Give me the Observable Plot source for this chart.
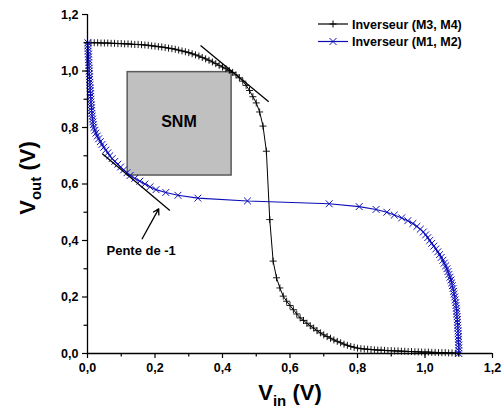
<!DOCTYPE html>
<html><head><meta charset="utf-8">
<script src="https://cdn.jsdelivr.net/npm/d3@7"></script>
<script src="https://cdn.jsdelivr.net/npm/@observablehq/plot@0.6"></script>
<style>body{margin:0;background:#fff} svg{display:block}</style>
</head><body><div id="chart"></div>
<script>
// Input sweep (V)
const vin = [0.00,0.01,0.02,0.03,0.04,0.05,0.06,0.07,0.08,0.09,
0.10,0.11,0.12,0.13,0.14,0.15,0.16,0.17,0.18,0.19,
0.20,0.21,0.22,0.23,0.24,0.25,0.26,0.27,0.28,0.29,
0.30,0.31,0.32,0.33,0.34,0.35,0.36,0.37,0.38,0.39,
0.40,0.41,0.42,0.43,0.44,0.45,0.46,0.47,0.48,0.49,
0.50,0.51,0.52,0.53,0.54,0.55,0.56,0.57,0.58,0.59,
0.60,0.61,0.62,0.63,0.64,0.65,0.66,0.67,0.68,0.69,
0.70,0.71,0.72,0.73,0.74,0.75,0.76,0.77,0.78,0.79,
0.80,0.81,0.82,0.83,0.84,0.85,0.86,0.87,0.88,0.89,
0.90,0.91,0.92,0.93,0.94,0.95,0.96,0.97,0.98,0.99,
1.00,1.01,1.02,1.03,1.04,1.05,1.06,1.07,1.08,1.09,1.10];
// Output (V)
const vout = [1.100,1.100,1.100,1.100,1.099,1.099,1.099,1.098,1.098,1.097,
1.097,1.096,1.096,1.095,1.094,1.094,1.093,1.092,1.091,1.089,
1.088,1.086,1.085,1.083,1.081,1.079,1.077,1.074,1.071,1.068,
1.065,1.061,1.057,1.053,1.048,1.043,1.038,1.032,1.026,1.020,
1.014,1.008,1.002,0.995,0.986,0.976,0.964,0.949,0.931,0.909,
0.887,0.855,0.805,0.716,0.474,0.327,0.268,0.232,0.203,0.185,
0.170,0.155,0.140,0.126,0.117,0.107,0.098,0.090,0.081,0.073,
0.066,0.060,0.054,0.048,0.043,0.038,0.033,0.029,0.025,0.022,
0.019,0.017,0.016,0.015,0.014,0.013,0.012,0.012,0.011,0.010,
0.010,0.009,0.009,0.008,0.008,0.007,0.007,0.006,0.006,0.005,
0.005,0.005,0.004,0.004,0.003,0.003,0.003,0.002,0.002,0.001,0.001];

const seriesNames = ["Inverseur (M3, M4)", "Inverseur (M1, M2)"];
const seriesColors = ["#000000", "#0d0db8"];
const majorTicks = [0, 0.2, 0.4, 0.6, 0.8, 1.0, 1.2];
const minorTicks = [0.1, 0.3, 0.5, 0.7, 0.9, 1.1];

// Annotations (data units)
const snmBox = [{x1: 0.119, x2: 0.427, y1: 0.630, y2: 0.996}];
const snmLabel = [{x: 0.271, y: 0.819, text: "SNM"}];
const tangentLines = [
  {x1: 0.335, y1: 1.090, x2: 0.537, y2: 0.891},
  {x1: 0.044, y1: 0.707, x2: 0.244, y2: 0.506}
];
const arrowLine = [{x1: 0.162, y1: 0.406, x2: 0.211, y2: 0.512}];
const slopeLabel = [{x: 0.159, y: 0.365, text: "Pente de -1"}];

// M3,M4: Vout vs Vin ; M1,M2: same characteristic with axes swapped (butterfly)
const curveA = vin.map((v, i) => ({x: v, y: vout[i]}));
const curveB = vin.map((v, i) => ({x: vout[i], y: v}));

const fmt = d => d.toFixed(1).replace(".", ",");
const FONT = "'Liberation Sans', Arial, Helvetica, sans-serif";

const chart = Plot.plot({
  width: 504, height: 409,
  marginLeft: 87, marginRight: 12, marginTop: 14, marginBottom: 56,
  x: {domain: [0, 1.2]},
  y: {domain: [0, 1.2]},
  style: {fontFamily: FONT, background: "#fff", color: "#000"},
  marks: [
    Plot.rect(snmBox, {x1: "x1", x2: "x2", y1: "y1", y2: "y2", fill: "#c0c0c0", stroke: "#5a5a5a", strokeWidth: 1.5}),
    Plot.text(snmLabel, {x: "x", y: "y", text: "text", fontSize: 16, fontWeight: "bold", fill: "#000"}),
    Plot.line(curveA, {x: "x", y: "y", stroke: seriesColors[0], strokeWidth: 1}),
    Plot.dot(curveA, {x: "x", y: "y", symbol: "plus", r: 2.4, stroke: seriesColors[0], strokeWidth: 0.9}),
    Plot.line(curveB, {x: "x", y: "y", stroke: seriesColors[1], strokeWidth: 1.1}),
    Plot.dot(curveB, {x: "x", y: "y", symbol: "times", r: 3.2, stroke: seriesColors[1], strokeWidth: 1}),
    Plot.link(tangentLines, {x1: "x1", y1: "y1", x2: "x2", y2: "y2", stroke: "#000", strokeWidth: 1.3}),
    Plot.arrow(arrowLine, {x1: "x1", y1: "y1", x2: "x2", y2: "y2", stroke: "#000", strokeWidth: 1.3, headLength: 7}),
    Plot.text(slopeLabel, {x: "x", y: "y", text: "text", fontSize: 13, fontWeight: "bold", fill: "#000"}),
    Plot.axisX(majorTicks, {tickSize: 5, tickPadding: 5, tickFormat: fmt, fontSize: 12.5, fontWeight: "bold", label: null, strokeWidth: 1.2}),
    Plot.axisX(minorTicks, {tickSize: 3.5, text: null, label: null, strokeWidth: 1.2}),
    Plot.axisY(majorTicks, {tickSize: 5, tickPadding: 4, tickFormat: fmt, fontSize: 12.5, fontWeight: "bold", label: null, strokeWidth: 1.2}),
    Plot.axisY(minorTicks, {tickSize: 3.5, text: null, label: null, strokeWidth: 1.2}),
    Plot.ruleY([0], {stroke: "#000", strokeWidth: 1.3}),
    Plot.ruleX([0], {stroke: "#000", strokeWidth: 1.3})
  ]
});

const svg = d3.select(chart);
// Axis titles with subscripts
const xt = svg.append("text")
  .attr("x", 290).attr("y", 400).attr("text-anchor", "middle")
  .attr("font-family", FONT).attr("font-weight", "bold").attr("font-size", 22).attr("fill", "#000");
xt.append("tspan").text("V");
xt.append("tspan").attr("dy", 6).attr("font-size", 15).text("in");
xt.append("tspan").attr("dy", -6).text(" (V)");

const yt = svg.append("text")
  .attr("transform", "translate(35,178) rotate(-90)").attr("text-anchor", "middle")
  .attr("font-family", FONT).attr("font-weight", "bold").attr("font-size", 22).attr("fill", "#000");
yt.append("tspan").text("V");
yt.append("tspan").attr("dy", 6).attr("font-size", 15).text("out");
yt.append("tspan").attr("dy", -6).text(" (V)");

// Legend
const legendRows = [{y: 24, sym: d3.symbolPlus, size: 18}, {y: 41.5, sym: d3.symbolTimes, size: 34}];
legendRows.forEach((row, i) => {
  const g = svg.append("g");
  g.append("line").attr("x1", 318).attr("x2", 348).attr("y1", row.y).attr("y2", row.y)
    .attr("stroke", seriesColors[i]).attr("stroke-width", 1.2);
  g.append("path").attr("d", d3.symbol(row.sym, row.size)()).attr("transform", `translate(333,${row.y})`)
    .attr("fill", "none").attr("stroke", seriesColors[i]).attr("stroke-width", 1);
  g.append("text").attr("x", 352).attr("y", row.y + 4.5).attr("text-anchor", "start")
    .attr("font-family", FONT).attr("font-weight", "bold").attr("font-size", 12.5).attr("fill", "#000")
    .text(seriesNames[i]);
});

document.getElementById("chart").appendChild(chart);
</script>
</body></html>
